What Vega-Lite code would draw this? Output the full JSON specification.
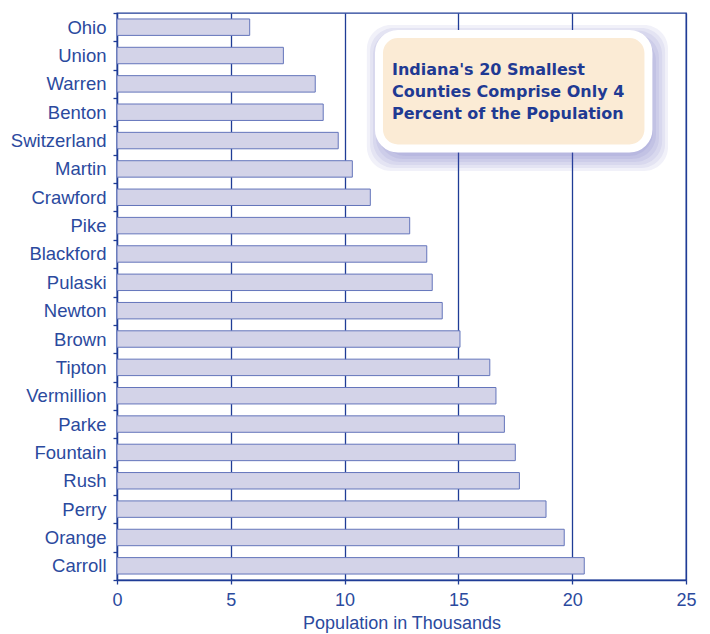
{
  "$schema": "https://vega.github.io/schema/vega-lite/v6.json",
  "width": 569,
  "height": 567,
  "autosize": "none",
  "padding": {"left": 117, "top": 13, "right": 24, "bottom": 54},
  "background": "white",
  "config": {
    "view": {"stroke": "#1f3c96", "strokeWidth": 1.3},
    "font": "Liberation Sans"
  },
  "datasets": {
    "counties": [
      {"county": "Ohio", "population": 5.83},
      {"county": "Union", "population": 7.31},
      {"county": "Warren", "population": 8.71},
      {"county": "Benton", "population": 9.06},
      {"county": "Switzerland", "population": 9.72},
      {"county": "Martin", "population": 10.34},
      {"county": "Crawford", "population": 11.13},
      {"county": "Pike", "population": 12.86},
      {"county": "Blackford", "population": 13.61},
      {"county": "Pulaski", "population": 13.85},
      {"county": "Newton", "population": 14.29},
      {"county": "Brown", "population": 15.07},
      {"county": "Tipton", "population": 16.38},
      {"county": "Vermillion", "population": 16.65},
      {"county": "Parke", "population": 17.02},
      {"county": "Fountain", "population": 17.5},
      {"county": "Rush", "population": 17.68},
      {"county": "Perry", "population": 18.85},
      {"county": "Orange", "population": 19.65},
      {"county": "Carroll", "population": 20.53}
    ],
    "shadow": [
      {"x0": 10.98, "x1": 24.21, "y0": 0.42, "y1": 5.57},
      {"x0": 11.12, "x1": 24.08, "y0": 0.53, "y1": 5.47},
      {"x0": 11.25, "x1": 23.95, "y0": 0.63, "y1": 5.36},
      {"x0": 11.38, "x1": 23.81, "y0": 0.74, "y1": 5.26},
      {"x0": 11.51, "x1": 23.68, "y0": 0.85, "y1": 5.15},
      {"x0": 11.64, "x1": 23.55, "y0": 0.95, "y1": 5.04}
    ],
    "box": [
      {"x0": 11.51, "x1": 23.35, "y0": 0.74, "y1": 4.78}
    ],
    "note": [
      {"line": "Indiana's 20 Smallest", "x": 12.08, "y": 2.19},
      {"line": "Counties Comprise Only 4", "x": 12.08, "y": 2.96},
      {"line": "Percent of the Population", "x": 12.08, "y": 3.74}
    ]
  },
  "layer": [
    {
      "data": {"name": "counties"},
      "mark": {"type": "bar", "fill": "#d3d3e8", "stroke": "#6475bb", "strokeWidth": 1, "height": {"band": 0.58}},
      "encoding": {
        "y": {
          "field": "county", "type": "nominal", "sort": null,
          "scale": {"paddingInner": 0, "paddingOuter": 0},
          "axis": {
            "title": null, "grid": false,
            "domainColor": "#1f3c96", "domainWidth": 1.3,
            "tickColor": "#1f3c96", "tickWidth": 1.3, "tickSize": 4, "tickBand": "extent",
            "labelFontSize": 18.5, "labelColor": "#2b4a9e", "labelPadding": 7, "labelFont": "Liberation Sans"
          }
        },
        "x": {
          "field": "population", "type": "quantitative",
          "scale": {"domain": [0, 25], "nice": false},
          "axis": {
            "title": "Population in Thousands", "values": [0, 5, 10, 15, 20, 25],
            "grid": true, "gridColor": "#1f3c96", "gridWidth": 1.3, "gridOpacity": 1,
            "domainColor": "#1f3c96", "domainWidth": 1.3,
            "tickColor": "#1f3c96", "tickWidth": 1.3, "tickSize": 4,
            "labelFontSize": 18, "labelColor": "#2b4a9e", "labelPadding": 7, "labelFlush": false, "labelFont": "Liberation Sans",
            "titleFontSize": 18, "titleColor": "#2b4a9e", "titleFontWeight": "normal", "titlePadding": 5, "titleFont": "Liberation Sans"
          }
        }
      }
    },
    {
      "data": {"name": "shadow"},
      "mark": {"type": "rect", "fill": "#4b52b0", "opacity": 0.08, "cornerRadius": 24},
      "encoding": {
        "x": {"field": "x0", "type": "quantitative", "scale": {"domain": [0, 25], "nice": false}, "axis": null},
        "x2": {"field": "x1"},
        "y": {"field": "y0", "type": "quantitative", "scale": {"domain": [0, 20], "nice": false, "reverse": true, "zero": false}, "axis": null},
        "y2": {"field": "y1"}
      }
    },
    {
      "data": {"name": "box"},
      "mark": {"type": "rect", "fill": "#fbebd5", "stroke": "white", "strokeWidth": 8, "cornerRadius": 19},
      "encoding": {
        "x": {"field": "x0", "type": "quantitative", "scale": {"domain": [0, 25], "nice": false}, "axis": null},
        "x2": {"field": "x1"},
        "y": {"field": "y0", "type": "quantitative", "scale": {"domain": [0, 20], "nice": false, "reverse": true, "zero": false}, "axis": null},
        "y2": {"field": "y1"}
      }
    },
    {
      "data": {"name": "note"},
      "mark": {"type": "text", "font": "DejaVu Sans", "fontWeight": "bold", "fontSize": 16, "color": "#1f3a93", "align": "left", "baseline": "alphabetic"},
      "encoding": {
        "text": {"field": "line"},
        "x": {"field": "x", "type": "quantitative", "scale": {"domain": [0, 25], "nice": false}, "axis": null},
        "y": {"field": "y", "type": "quantitative", "scale": {"domain": [0, 20], "nice": false, "reverse": true, "zero": false}, "axis": null}
      }
    }
  ],
  "resolve": {"scale": {"x": "independent", "y": "independent"}}
}
